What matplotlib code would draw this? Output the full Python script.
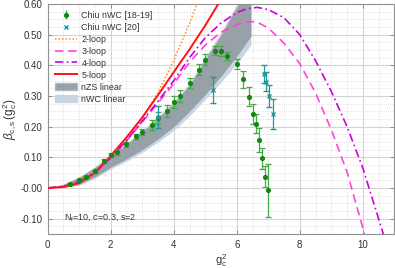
import matplotlib
matplotlib.use('Agg')
import matplotlib.pyplot as plt
from matplotlib.ticker import MultipleLocator, FixedLocator, FixedFormatter
from matplotlib.patches import Patch
from matplotlib.lines import Line2D

plt.rcParams['font.family'] = ['Liberation Sans', 'DejaVu Sans']
plt.rcParams['mathtext.fontset'] = 'custom'
plt.rcParams['mathtext.rm'] = 'Liberation Sans'
plt.rcParams['mathtext.it'] = 'Liberation Sans:italic'
plt.rcParams['mathtext.bf'] = 'Liberation Sans:bold'

# ---- data: Chiu nWC [18-19]
green_x = [0.7, 1.0, 1.2, 1.5, 1.8, 2.0, 2.2, 2.5, 2.8, 3.0, 3.3, 3.5, 3.8, 4.0, 4.2,
           4.5, 4.8, 5.0, 5.3, 5.5, 5.7, 6.0, 6.2, 6.4, 6.5, 6.6, 6.7, 6.8, 6.9, 7.0]
green_y = [0.013, 0.025, 0.036, 0.054, 0.089, 0.108, 0.117, 0.143, 0.168, 0.182, 0.205,
           0.228, 0.251, 0.280, 0.300, 0.343, 0.385, 0.418, 0.448, 0.448, 0.430, 0.404,
           0.355, 0.298, 0.242, 0.209, 0.155, 0.097, 0.037, -0.008]
green_err = [0.003, 0.003, 0.004, 0.005, 0.006, 0.007, 0.010, 0.008, 0.008, 0.010, 0.016,
             0.020, 0.018, 0.020, 0.020, 0.016, 0.018, 0.018, 0.015, 0.016, 0.013, 0.015,
             0.028, 0.031, 0.033, 0.031, 0.039, 0.035, 0.035, 0.086]

# ---- data: Chiu nWC [20]
cyan_x = [3.5, 5.25, 6.87, 6.92, 7.03, 7.16]
cyan_y = [0.232, 0.320, 0.372, 0.347, 0.300, 0.241]
cyan_err = [0.036, 0.043, 0.030, 0.030, 0.035, 0.048]

# ---- perturbative curves
two_x = [0, 0.5, 1, 1.5, 2, 2.5, 3, 3.5, 4, 4.5, 4.8, 5.0]
two_y = [0, 0.0056, 0.023, 0.053, 0.096, 0.153, 0.225, 0.312, 0.416, 0.537, 0.617, 0.675]

three_x = [0, 0.5, 1, 1.5, 2, 2.5, 3, 3.5, 4, 4.5, 5, 5.5, 6, 6.3, 6.6, 7, 7.5, 8,
           8.5, 9, 9.5, 10, 10.2]
three_y = [0, 0.005, 0.021, 0.050, 0.098, 0.153, 0.215, 0.277, 0.340, 0.410, 0.466,
           0.508, 0.533, 0.541, 0.543, 0.522, 0.472, 0.405, 0.310, 0.190, 0.052,
           -0.130, -0.210]

four_x = [0, 0.5, 1, 1.5, 2, 2.5, 3, 3.5, 4, 4.5, 5, 5.5, 6, 6.3, 6.65, 7, 7.5, 8,
          8.5, 9, 9.5, 10, 10.5, 10.8]
four_y = [0, 0.005, 0.021, 0.050, 0.099, 0.155, 0.218, 0.283, 0.350, 0.425, 0.490,
          0.538, 0.572, 0.584, 0.589, 0.582, 0.555, 0.500, 0.415, 0.315, 0.200,
          0.065, -0.100, -0.200]

five_x = [0, 0.5, 1, 1.5, 2, 2.5, 3, 3.5, 4, 4.5, 5, 5.5, 5.7]
five_y = [0, 0.003, 0.016, 0.050, 0.105, 0.165, 0.230, 0.303, 0.378, 0.452, 0.530,
          0.615, 0.650]

# ---- bands
band_x = [0, 0.5, 1, 1.5, 2, 2.5, 3, 3.5, 4, 4.5, 5, 5.5, 6, 6.45]
nzs_hi = [0, 0.012, 0.035, 0.067, 0.105, 0.142, 0.183, 0.228, 0.277, 0.335, 0.420,
          0.500, 0.590, 0.680]
nzs_lo = [0, 0.003, 0.012, 0.037, 0.068, 0.095, 0.125, 0.160, 0.200, 0.250, 0.305,
          0.365, 0.430, 0.495]
nwc_hi = [0, 0.013, 0.037, 0.070, 0.108, 0.146, 0.188, 0.233, 0.283, 0.342, 0.427,
          0.507, 0.600, 0.690]
nwc_lo = [0, 0.002, 0.009, 0.032, 0.062, 0.088, 0.116, 0.150, 0.188, 0.235, 0.290,
          0.345, 0.405, 0.467]

y_ticks = [-0.10, 0.0, 0.10, 0.20, 0.30, 0.40, 0.50, 0.60]
y_ticklabels = ['-0.10', '-0.00', '0.10', '0.20', '0.30', '0.40', '0.50', '0.60']
x_ticks = [0, 2, 4, 6, 8, 10]

fig = plt.figure(figsize=(3.95, 2.68), dpi=100)
ax = fig.add_axes([0.1208, 0.1269, 0.8775, 0.8582])

ax.fill_between(band_x, nwc_lo, nwc_hi, color='#c9d5e1', lw=0, zorder=1)
ax.fill_between(band_x, nzs_lo, nzs_hi, color='#98a0a8', lw=0, zorder=1.1)

ax.plot(two_x, two_y, ls=(0, (1, 1.3)), color='#ff8c1a', lw=1.1, zorder=3)
ax.plot(three_x, three_y, ls=(0, (5, 3)), color='#ff44dd', lw=1.2, zorder=3)
ax.plot(four_x, four_y, ls=(0, (5, 2, 1, 2)), color='#cc00dd', lw=1.2, zorder=3)
ax.plot(five_x, five_y, ls='-', color='#ff1111', lw=1.4, zorder=3.2)

ax.errorbar(green_x, green_y, yerr=green_err, fmt='o', ms=2.7, color='#118811',
            mec='#118811', ecolor='#44aa44', elinewidth=0.9, capsize=2.4,
            capthick=0.9, zorder=4)
ax.errorbar(cyan_x, cyan_y, yerr=cyan_err, fmt='x', ms=3.0, color='#229999',
            mew=1.0, ecolor='#229999', elinewidth=0.9, capsize=2.2, capthick=0.9,
            zorder=4)

ax.set_xlim(0, 11)
ax.set_ylim(-0.15, 0.6)
ax.xaxis.set_major_locator(FixedLocator(x_ticks))
ax.xaxis.set_minor_locator(MultipleLocator(0.5))
ax.yaxis.set_major_locator(FixedLocator(y_ticks))
ax.yaxis.set_major_formatter(FixedFormatter(y_ticklabels))
ax.yaxis.set_minor_locator(MultipleLocator(0.025))

ax.grid(which='major', color='#d4d4d4', lw=0.8, ls='-', zorder=0)
ax.grid(which='minor', color='#d8d8d8', lw=0.6, ls=(0, (1, 1.5)), zorder=0)
ax.set_axisbelow(True)

ax.tick_params(which='major', direction='in', top=True, right=True, length=3,
               width=0.6, color='#808080', labelsize=7, labelcolor='#333333', pad=4)
ax.tick_params(which='minor', length=0)
for s in ax.spines.values():
    s.set_color('#909090')
    s.set_linewidth(0.8)

ax.set_xlabel(r'$\mathrm{g_c^2}$', fontsize=8, color='#333333', labelpad=2)
ax.set_ylabel(r'$\beta_{\mathrm{c,s}}\,\mathrm{(g_c^2)}$', fontsize=8.5, color='#333333',
              labelpad=1)

ax.text(0.52, -0.097, r'$\mathrm{N_f}$=10, c=0.3, s=2', fontsize=6.5, color='#333333',
        va='center', ha='left')

handles = [
    ax.errorbar([], [], yerr=[], fmt='o', ms=2.7, color='#118811', ecolor='#44aa44',
                elinewidth=0.9, capsize=2.4, capthick=0.9),
    Line2D([], [], marker='x', ls='none', ms=3.0, color='#229999', mew=1.0),
    Line2D([], [], ls=(0, (1, 1.3)), color='#ff8c1a', lw=1.1),
    Line2D([], [], ls=(0, (5, 3)), color='#ff44dd', lw=1.2),
    Line2D([], [], ls=(0, (5, 2, 1, 2)), color='#cc00dd', lw=1.2),
    Line2D([], [], ls='-', color='#ff1111', lw=1.4),
    Patch(facecolor='#98a0a8', edgecolor='#b0b8c0'),
    Patch(facecolor='#c9d5e1', edgecolor='#c9d5e1'),
]
labels = ['Chiu nWC [18-19]', 'Chiu nWC [20]', '2-loop', '3-loop', '4-loop', '5-loop',
          'nZS linear', 'nWC linear']
leg = ax.legend(handles, labels, loc='upper left', bbox_to_anchor=(0.0, 1.0),
                frameon=False, fontsize=6.4, handlelength=2.5, handletextpad=0.5,
                labelspacing=0.33, borderaxespad=0.4, borderpad=0.4,
                labelcolor='#333333', handleheight=0.9)
leg.set_zorder(5)

fig.savefig('out.png', dpi=100)
